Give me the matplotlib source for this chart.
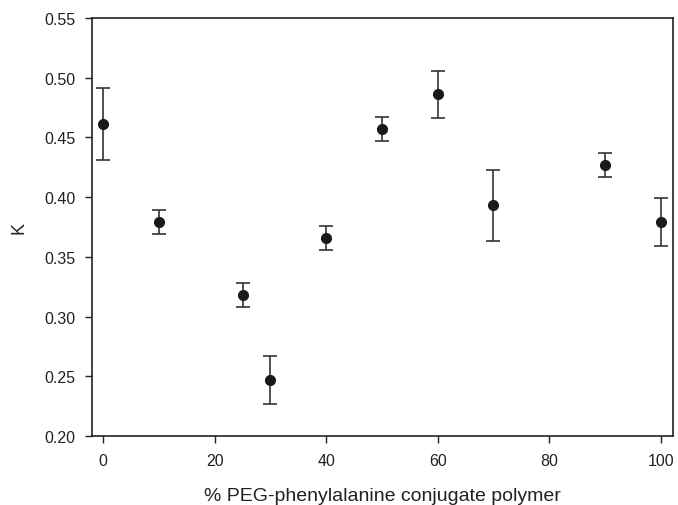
import matplotlib
matplotlib.use("Agg")
import matplotlib.pyplot as plt

# data
peg_pct = [0, 10, 25, 30, 40, 50, 60, 70, 90, 100]
k_vals = [0.461, 0.379, 0.318, 0.247, 0.366, 0.457, 0.486, 0.393, 0.427, 0.379]
k_err = [0.030, 0.010, 0.010, 0.020, 0.010, 0.010, 0.020, 0.030, 0.010, 0.020]

plt.rcParams['font.family'] = ['Liberation Sans', 'DejaVu Sans']

fig = plt.figure(figsize=(6.78, 5.06), dpi=100)
ax = fig.add_axes([0.1357, 0.1364, 0.8569, 0.8261])

ax.errorbar(peg_pct, k_vals, yerr=k_err, fmt='o', color='#1a1a1a',
            ecolor='#333333', elinewidth=1.2, capsize=5, capthick=1.2,
            markersize=7)

ax.set_xlim(-2, 102.2)
ax.set_ylim(0.20, 0.55)
ax.set_xticks([0, 20, 40, 60, 80, 100])
ax.set_yticks([0.20, 0.25, 0.30, 0.35, 0.40, 0.45, 0.50, 0.55])
ax.set_yticklabels(['0.20', '0.25', '0.30', '0.35', '0.40', '0.45', '0.50', '0.55'])
ax.tick_params(direction='out', length=5, width=1, labelsize=11.5, pad=7, colors='#222222')

for s in ax.spines.values():
    s.set_linewidth(1.2)
    s.set_color('#222222')

ax.set_xlabel('% PEG-phenylalanine conjugate polymer', fontsize=14, labelpad=14, color='#222222')
ax.set_ylabel('K', fontsize=13, labelpad=12, color='#222222')

fig.savefig('out.png', dpi=100)
